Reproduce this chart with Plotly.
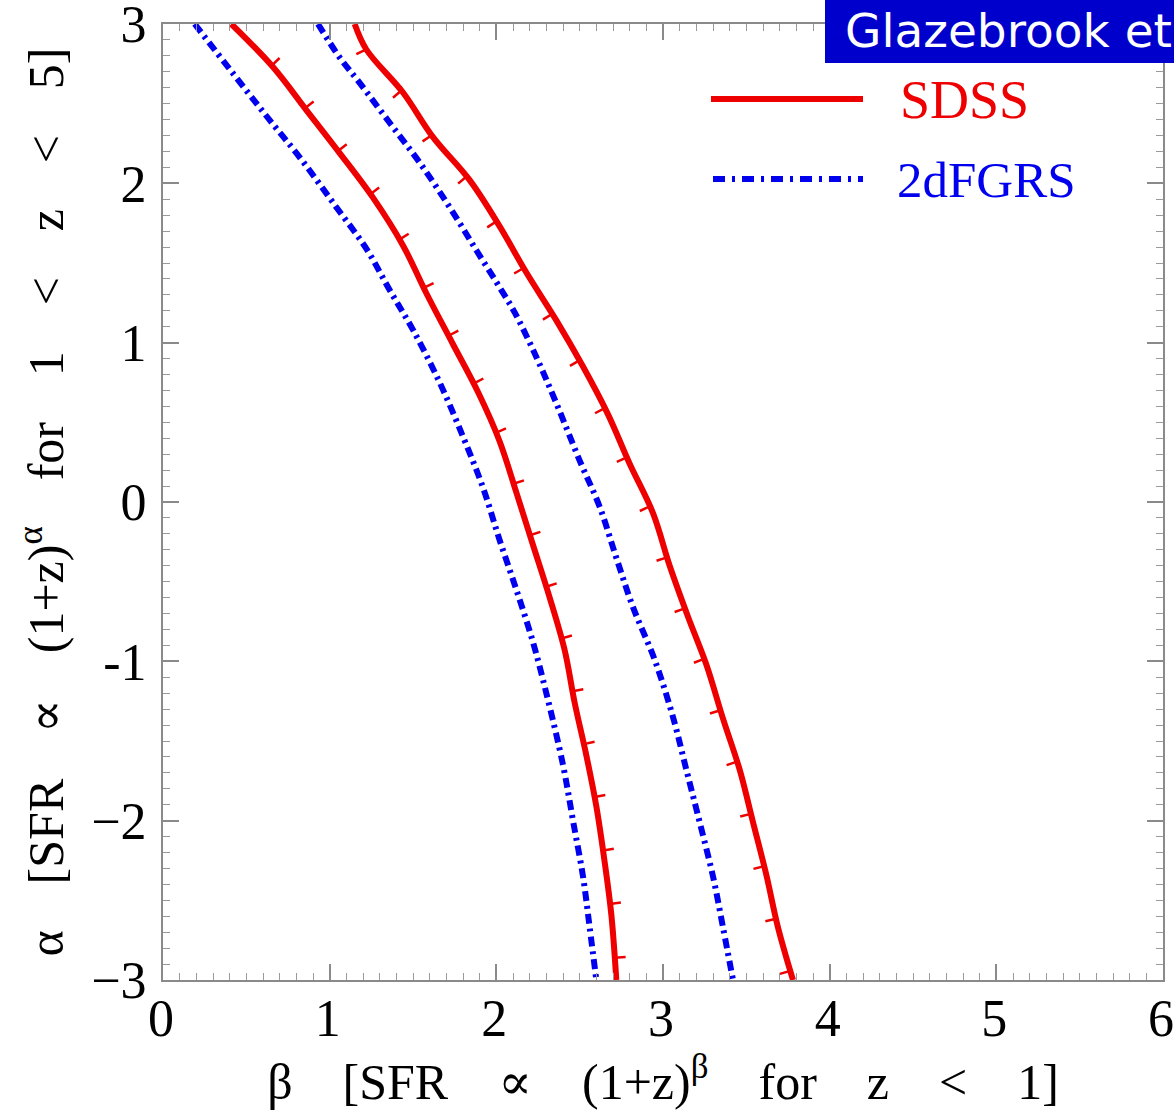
import numpy as np
import plotly.graph_objects as go

# ---- data (beta along x, alpha along y) ----
alpha_sdss_left = [3.0, 2.73, 2.46, 2.19, 1.91, 1.61, 1.31, 0.99, 0.69, 0.38, 0.06, -0.27, -0.60, -0.93, -1.26, -1.59, -1.91, -2.26, -2.59, -3.0]
beta_sdss_left = [0.41, 0.66, 0.86, 1.06, 1.26, 1.44, 1.58, 1.74, 1.89, 2.02, 2.12, 2.22, 2.32, 2.41, 2.47, 2.54, 2.60, 2.65, 2.69, 2.72]

alpha_sdss_right = [3.0, 2.84, 2.57, 2.29, 2.02, 1.73, 1.44, 1.14, 0.85, 0.55, 0.24, -0.07, -0.40, -0.72, -1.02, -1.36, -1.68, -2.01, -2.34, -2.67, -3.0]
beta_sdss_right = [1.15, 1.22, 1.44, 1.62, 1.84, 2.02, 2.18, 2.36, 2.52, 2.67, 2.80, 2.94, 3.04, 3.15, 3.26, 3.36, 3.46, 3.54, 3.62, 3.69, 3.78]

alpha_2df_left = [3.0, 2.69, 2.41, 2.15, 1.85, 1.59, 1.33, 1.08, 0.75, 0.41, 0.09, -0.24, -0.55, -0.88, -1.20, -1.65, -2.00, -2.35, -2.67, -3.0]
beta_2df_left = [0.19, 0.42, 0.63, 0.83, 1.04, 1.22, 1.36, 1.50, 1.66, 1.80, 1.92, 2.02, 2.12, 2.22, 2.30, 2.40, 2.46, 2.52, 2.56, 2.60]

alpha_2df_right = [3.0, 2.79, 2.63, 2.38, 2.13, 1.85, 1.58, 1.33, 1.19, 0.91, 0.62, 0.26, -0.03, -0.35, -0.66, -0.99, -1.35, -1.68, -2.01, -2.35, -2.67, -3.0]
beta_2df_right = [0.93, 1.06, 1.18, 1.36, 1.54, 1.72, 1.88, 2.03, 2.11, 2.24, 2.36, 2.50, 2.62, 2.72, 2.82, 2.95, 3.06, 3.14, 3.22, 3.30, 3.36, 3.42]

x_tickvals = [0, 1, 2, 3, 4, 5, 6]
y_tickvals = [-3, -2, -1, 0, 1, 2, 3]
y_ticktext = ["\u22123", "\u22122", "-1", "0", "1", "2", "3"]

RED = "#ee0000"
BLUE = "#0000ee"
SERIF = "Liberation Serif, DejaVu Serif, serif"
GAP_X = "\u2003"
GAP_Y = "\u2002\u2004\u200a"

# layout geometry
W, H = 1174, 1119
ML, MR, MT, MB = 163, 11, 24, 139
PW, PH = W - ML - MR, H - MT - MB
SX, SY = PW / 6.0, PH / 6.0


def contour_ticks(beta, alpha, spacing, offset, length, side):
    """Small perpendicular ticks along a contour, computed in screen space."""
    px = np.asarray(beta, float) * SX
    py = -np.asarray(alpha, float) * SY
    seg = np.hypot(np.diff(px), np.diff(py))
    s = np.concatenate([[0.0], np.cumsum(seg)])
    xs, ys = [], []
    for t in np.arange(offset, s[-1] - 6, spacing):
        i = int(np.clip(np.searchsorted(s, t) - 1, 0, len(seg) - 1))
        f = (t - s[i]) / seg[i]
        x0 = px[i] + f * (px[i + 1] - px[i])
        y0 = py[i] + f * (py[i + 1] - py[i])
        tx = (px[i + 1] - px[i]) / seg[i]
        ty = (py[i + 1] - py[i]) / seg[i]
        nx, ny = ty * side, -tx * side
        x1, y1 = x0 + nx * length, y0 + ny * length
        xs += [x0 / SX, x1 / SX, None]
        ys += [-y0 / SY, -y1 / SY, None]
    return xs, ys


fig = go.Figure()

blue_dash = "10px,5px,3px,5px"
for b, a in [(beta_2df_left, alpha_2df_left), (beta_2df_right, alpha_2df_right)]:
    fig.add_trace(go.Scatter(x=b, y=a, mode="lines", name="2dFGRS",
                             line=dict(color=BLUE, width=6, dash=blue_dash, shape="spline", smoothing=1.0),
                             showlegend=False, hoverinfo="skip"))

for b, a, side, off in [(beta_sdss_left, alpha_sdss_left, 1, 58),
                        (beta_sdss_right, alpha_sdss_right, -1, 28)]:
    fig.add_trace(go.Scatter(x=b, y=a, mode="lines", name="SDSS",
                             line=dict(color=RED, width=6, shape="spline", smoothing=1.0),
                             showlegend=False, hoverinfo="skip"))
    tx, ty = contour_ticks(b, a, 54, off, 11, side)
    fig.add_trace(go.Scatter(x=tx, y=ty, mode="lines",
                             line=dict(color=RED, width=2.5),
                             showlegend=False, hoverinfo="skip"))

axis_common = dict(
    showgrid=False, zeroline=False, showline=True, linecolor="#8a8a8a", linewidth=2,
    mirror="allticks", ticks="inside", ticklen=16, tickwidth=1.5, tickcolor="#8a8a8a",
    minor=dict(dtick=0.1, ticks="inside", ticklen=7, tickwidth=1, tickcolor="#9a9a9a"),
    tickfont=dict(family=SERIF, size=52, color="black"),
    ticklabeloverflow="allow",
)

fig.update_xaxes(range=[0, 6], tickvals=x_tickvals, ticktext=[str(v) for v in x_tickvals],
                 ticklabelstandoff=-8, ticklabelshift=-2,
                 title=dict(text="\u03b2" + GAP_X + "[SFR" + GAP_X + "\u221d" + GAP_X + "(1+z)<sup>\u03b2</sup>" + GAP_X
                            + "for" + GAP_X + "z" + GAP_X + "<" + GAP_X + "1]",
                            font=dict(family=SERIF, size=50, color="black"), standoff=0),
                 **axis_common)
fig.update_yaxes(range=[-3, 3], tickvals=y_tickvals, ticktext=y_ticktext,
                 ticklabelstandoff=4,
                 title=dict(text="\u03b1" + GAP_Y + "[SFR" + GAP_Y + "\u221d" + GAP_Y + "(1+z)<sup>\u03b1</sup>" + GAP_Y
                            + "for" + GAP_Y + "1" + GAP_Y + "<" + GAP_Y + "z" + GAP_Y + "<" + GAP_Y + "5]",
                            font=dict(family=SERIF, size=50, color="black"), standoff=12),
                 **axis_common)


def px_x(p):
    return (p - ML) / PW


def px_y(p):
    return (H - MB - p) / PH


shapes = [
    # manual legend samples
    dict(type="line", xref="paper", yref="paper", x0=px_x(711), x1=px_x(863), y0=px_y(99), y1=px_y(99),
         line=dict(color=RED, width=6)),
    dict(type="line", xref="paper", yref="paper", x0=px_x(713), x1=px_x(863), y0=px_y(179), y1=px_y(179),
         line=dict(color=BLUE, width=6, dash="12px,7px,3px,7px")),
    # "Glazebrook et" banner
    dict(type="rect", xref="paper", yref="paper", x0=px_x(825), x1=px_x(1180), y0=px_y(63), y1=px_y(-5),
         fillcolor="#0000cc", line=dict(width=0), layer="above"),
]

annotations = [
    dict(xref="paper", yref="paper", x=px_x(898), y=px_y(100), xanchor="left", yanchor="middle",
         text="SDSS", showarrow=False, font=dict(family=SERIF, size=54, color=RED)),
    dict(xref="paper", yref="paper", x=px_x(895), y=px_y(180), xanchor="left", yanchor="middle",
         text="2dFGRS", showarrow=False, font=dict(family=SERIF, size=51, color=BLUE)),
    dict(xref="paper", yref="paper", x=px_x(843), y=px_y(30), xanchor="left", yanchor="middle",
         text="Glazebrook et", showarrow=False, font=dict(family="DejaVu Sans, Verdana, sans-serif", size=47, color="white")),
]

fig.update_layout(
    width=W, height=H,
    margin=dict(l=ML, r=MR, t=MT, b=MB, autoexpand=False),
    paper_bgcolor="white", plot_bgcolor="white",
    showlegend=False,
    shapes=shapes, annotations=annotations,
)

fig.write_html("out.html")
